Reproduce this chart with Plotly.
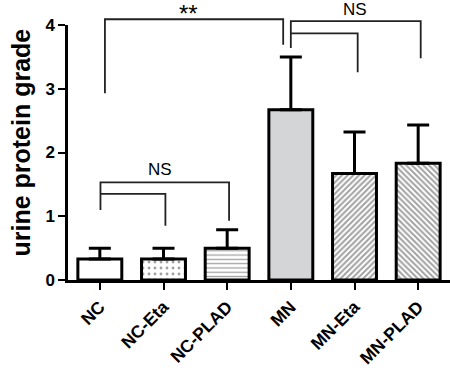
import plotly.graph_objects as go

categories = ["NC", "NC-Eta", "NC-PLAD", "MN", "MN-Eta", "MN-PLAD"]
means = [0.33, 0.33, 0.50, 2.67, 1.67, 1.83]
errors_up = [0.17, 0.17, 0.29, 0.83, 0.65, 0.60]
fill_colors = ["white", "white", "white", "#d4d5d7", "white", "white"]
patterns = ["", ".", "-", "", "/", "\\"]
pattern_sizes = [5, 6, 4.3, 5, 4, 4]
pattern_solidity = [0.3, 0.18, 0.3, 0.3, 0.5, 0.5]
y_ticks = [0, 1, 2, 3, 4]
YMAX = 4

# significance brackets: (x positions as category index, y values)
brackets = [
    ([0.08, 0.08, 2.88, 2.88], [2.93, 4.09, 4.09, 3.69]),
    ([3.0, 3.0, 5.04, 5.04], [3.64, 4.06, 4.06, 3.48]),
    ([3.0, 4.05, 4.05], [3.87, 3.87, 3.26]),
    ([0.01, 0.01, 2.03, 2.03], [1.10, 1.53, 1.53, 0.93]),
    ([0.01, 1.03, 1.03], [1.35, 1.35, 0.85]),
]
sig_labels = [("**", 1.40, 4.18, 24), ("NS", 4.0, 4.245, 17), ("NS", 0.94, 1.74, 17)]

NARROW = "Liberation Sans Narrow, Liberation Sans, Arial, sans-serif"
SANS = "Liberation Sans, Arial, sans-serif"

fig = go.Figure()
fig.add_trace(go.Bar(
    x=list(range(len(categories))),
    y=means,
    width=0.69,
    marker=dict(
        color=fill_colors,
        line=dict(color="black", width=3),
        pattern=dict(shape=patterns, fgcolor="black", bgcolor="white",
                     size=pattern_sizes, solidity=pattern_solidity),
    ),
    error_y=dict(type="data", array=errors_up, arrayminus=[0] * len(means),
                 symmetric=False, color="black", thickness=3, width=11),
))

for xs, ys in brackets:
    path = "M " + " L ".join(f"{x},{y / YMAX}" for x, y in zip(xs, ys))
    fig.add_shape(type="path", path=path, xref="x", yref="paper",
                  line=dict(color="#222", width=1.8))

for txt, x, y, sz in sig_labels:
    fig.add_annotation(text=txt, x=x, y=y / YMAX, xref="x", yref="paper",
                       showarrow=False, font=dict(family=SANS, size=sz, color="black"),
                       xanchor="center", yanchor="middle")

fig.add_annotation(text="<b>urine protein grade</b>", textangle=-90,
                   x=-0.123, y=0.539, xref="paper", yref="paper", showarrow=False,
                   font=dict(family=NARROW, size=25, color="black"),
                   xanchor="center", yanchor="middle")

fig.update_layout(
    width=450, height=368,
    margin=dict(l=68, r=0, t=25, b=88),
    paper_bgcolor="white", plot_bgcolor="white",
    showlegend=False,
    xaxis=dict(range=[-0.5, 5.5], tickvals=list(range(len(categories))),
               ticktext=[f"<b>{c}</b>" for c in categories], tickangle=-45,
               showline=True, linecolor="black", linewidth=2.5,
               ticks="outside", ticklen=7, tickwidth=2, tickcolor="black",
               showgrid=False, zeroline=False, automargin=False,
               tickfont=dict(family=SANS, size=17.5, color="black")),
    yaxis=dict(range=[0, YMAX], tickvals=y_ticks,
               ticktext=[f"<b>{v}</b>" for v in y_ticks],
               showline=True, linecolor="black", linewidth=2.5,
               ticks="outside", ticklen=7, tickwidth=2, tickcolor="black",
               showgrid=False, zeroline=False, automargin=False,
               tickfont=dict(family=SANS, size=17, color="black")),
)

# remove the browser's default 8px body margin so the figure fills the window
fig.write_html("out.html", config={"displayModeBar": False},
               post_script="document.body.style.margin='0';")
